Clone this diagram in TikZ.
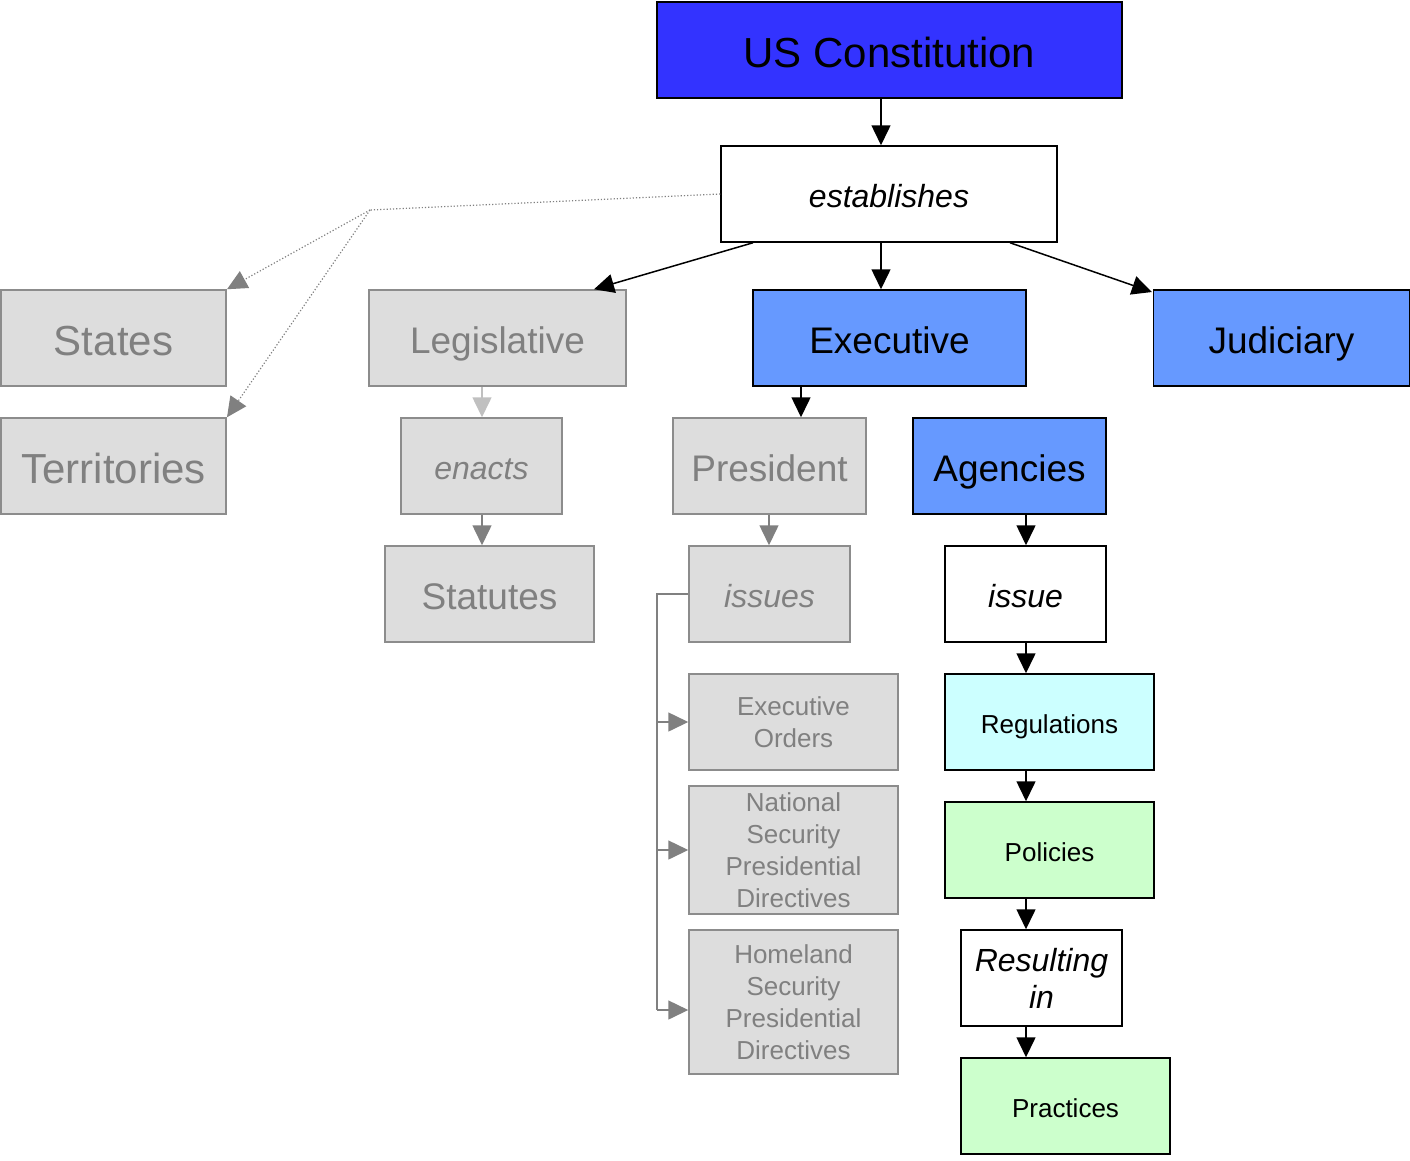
\documentclass[tikz,border=0pt]{standalone}
\usepackage{fontspec}
\setmainfont{Liberation Sans}
\usetikzlibrary{arrows.meta}
\definecolor{deepblue}{HTML}{3333FF}
\definecolor{midblue}{HTML}{6699FF}
\definecolor{paleface}{HTML}{DDDDDD}
\definecolor{paleedge}{HTML}{8C8C8C}
\definecolor{paletext}{HTML}{808080}
\definecolor{lightarrow}{HTML}{C0C0C0}
\definecolor{cyanfill}{HTML}{CCFFFF}
\definecolor{greenfill}{HTML}{CCFFCC}
\tikzset{
  box/.style={draw=black, line width=1.5pt, inner sep=0pt, font=\fontsize{37}{42}\selectfont, text height=30.5pt, text depth=0pt},
  hugetext/.style={font=\fontsize{42}{48}\selectfont, text height=34pt, text depth=0pt},
  verbtext/.style={font=\fontsize{32}{37}\selectfont\itshape, text height=27pt, text depth=0pt},
  smalltext/.style={font=\fontsize{26}{32}\selectfont, text height=22.6pt, text depth=0pt},
  multiline/.style={align=center, text height=, text depth=},
  activebox/.style={box, fill=midblue},
  plainbox/.style={box, verbtext, fill=white},
  greybox/.style={box, draw=paleedge, fill=paleface, text=paletext},
  greyverb/.style={greybox, verbtext},
  greysmall/.style={greybox, smalltext, multiline},
  smallbox/.style={box, smalltext},
  tip/.style={-{Triangle[length=20pt,width=19pt]}},
  arr/.style={tip, line width=1.5pt, draw=black},
  greyarr/.style={tip, line width=1.5pt, draw=paletext},
  lightarr/.style={tip, line width=1.5pt, draw=lightarrow},
  dotline/.style={line width=1.2pt, draw=paletext, dotted},
}
\begin{document}
\begin{tikzpicture}[x=1pt,y=-1pt]
\useasboundingbox (0,0) rectangle (1410,1160);

% top of the hierarchy
\node[box, hugetext, fill=deepblue, minimum width=465pt, minimum height=96pt] (usc) at (889.5,50) {US Constitution};
\node[plainbox, minimum width=336pt, minimum height=96pt] (est) at (889,194) {establishes};

% states and territories
\node[greybox, hugetext, minimum width=225pt, minimum height=96pt] (states) at (113.5,338) {States};
\node[greybox, hugetext, minimum width=225pt, minimum height=96pt] (terr) at (113.5,466) {Territories};

% branches
\node[greybox, minimum width=257pt, minimum height=96pt] (leg) at (497.5,338) {Legislative};
\node[activebox, minimum width=273pt, minimum height=96pt] (exec) at (889.5,338) {Executive};
\node[activebox, minimum width=256pt, minimum height=96pt] (jud) at (1281.5,338) {Judiciary};

% legislative column
\node[greyverb, minimum width=161pt, minimum height=96pt] (enacts) at (481.5,466) {enacts};
\node[greybox, minimum width=209pt, minimum height=96pt] (statutes) at (489.5,594) {Statutes};

% president column
\node[greybox, minimum width=193pt, minimum height=96pt] (pres) at (769.5,466) {President};
\node[greyverb, minimum width=161pt, minimum height=96pt] (issues) at (769.5,594) {issues};
\node[greysmall, minimum width=209pt, minimum height=96pt] (eo) at (793.5,722) {Executive\\Orders};
\node[greysmall, minimum width=209pt, minimum height=128pt] (nspd) at (793.5,850) {National\\Security\\Presidential\\Directives};
\node[greysmall, minimum width=209pt, minimum height=144pt] (hspd) at (793.5,1002) {Homeland\\Security\\Presidential\\Directives};

% agencies column
\node[activebox, minimum width=193pt, minimum height=96pt] (agen) at (1009.5,466) {Agencies};
\node[plainbox, minimum width=161pt, minimum height=96pt] (issue) at (1025.5,594) {issue};
\node[smallbox, fill=cyanfill, minimum width=209pt, minimum height=96pt] (regs) at (1049.5,722) {Regulations};
\node[smallbox, fill=greenfill, minimum width=209pt, minimum height=96pt] (pol) at (1049.5,850) {Policies};
\node[plainbox, multiline, minimum width=161pt, minimum height=96pt] (res) at (1041.5,978) {Resulting\\in};
\node[smallbox, fill=greenfill, minimum width=209pt, minimum height=96pt] (prac) at (1065.5,1106) {Practices};

% main connectors
\draw[arr] (881,0 |- usc.south) -- (881,0 |- est.north);
\draw[arr] (753,0 |- est.south) -- (594,0 |- leg.north);
\draw[arr] (881,0 |- est.south) -- (881,0 |- exec.north);
\draw[arr] (1010,0 |- est.south) -- (1152,292);
\draw[arr] (801,0 |- exec.south) -- (801,0 |- pres.north);
\draw[arr] (1026,0 |- agen.south) -- (1026,0 |- issue.north);
\draw[arr] (1026,0 |- issue.south) -- (1026,0 |- regs.north);
\draw[arr] (1026,0 |- regs.south) -- (1026,0 |- pol.north);
\draw[arr] (1026,0 |- pol.south) -- (1026,0 |- res.north);
\draw[arr] (1026,0 |- res.south) -- (1026,0 |- prac.north);

% faded connectors
\draw[lightarr] (482,0 |- leg.south) -- (482,0 |- enacts.north);
\draw[greyarr] (482,0 |- enacts.south) -- (482,0 |- statutes.north);
\draw[greyarr] (769,0 |- pres.south) -- (769,0 |- issues.north);

% dotted fan to states and territories
\coordinate (fork) at (370,210);
\draw[dotline] (est.west) -- (fork);
\draw[dotline, tip] (fork) -- (227,0 |- states.north);
\draw[dotline, tip] (fork) -- (227,0 |- terr.north);

% bracket from issues to the directives
\coordinate (rail) at (657,0 |- issues.west);
\coordinate (railend) at (657,1010);
\draw[line width=1.5pt, draw=paletext] (issues.west) -- (rail) -- (railend);
\draw[greyarr] (657,0 |- eo.west) -- (eo.west);
\draw[greyarr] (657,0 |- nspd.west) -- (nspd.west);
\draw[greyarr] (railend) -- (railend -| hspd.west);
\end{tikzpicture}
\end{document}
